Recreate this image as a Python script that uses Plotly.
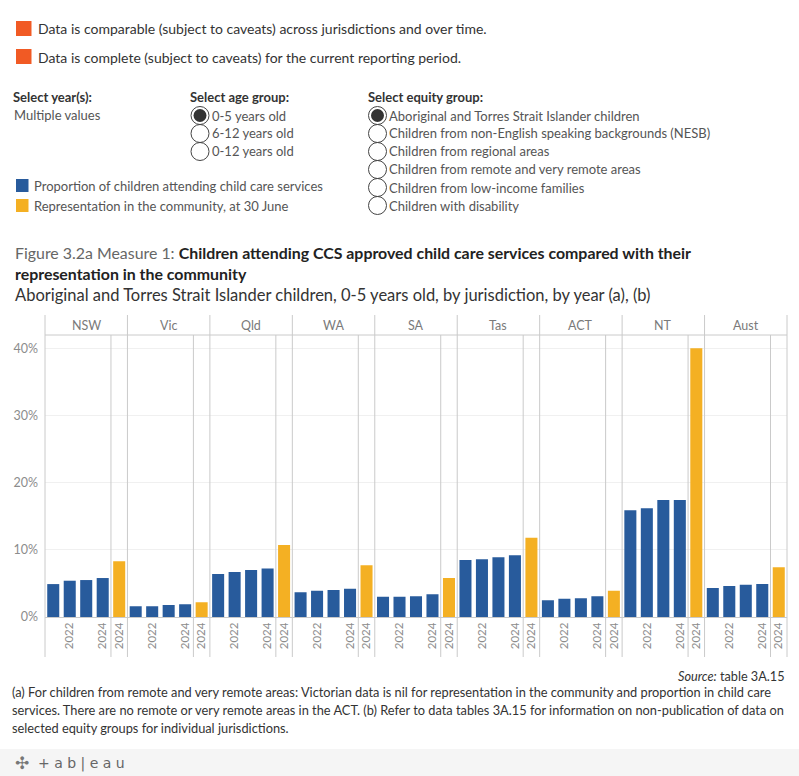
import plotly.graph_objects as go
from plotly.subplots import make_subplots

# ---------------- data (values in %) ----------------
jurisdictions = ["NSW", "Vic", "Qld", "WA", "SA", "Tas", "ACT", "NT", "Aust"]
years = ["2021", "2022", "2023", "2024"]
year_ticks = ["2022", "2024"]
rep_year = ["2024"]

# Proportion of children attending child care services
att_2021 = [4.9, 1.6, 6.4, 3.7, 3.0, 8.5, 2.5, 15.9, 4.3]
att_2022 = [5.4, 1.6, 6.7, 3.9, 3.0, 8.6, 2.7, 16.2, 4.6]
att_2023 = [5.5, 1.8, 7.0, 4.0, 3.1, 8.9, 2.8, 17.4, 4.8]
att_2024 = [5.8, 1.9, 7.2, 4.2, 3.4, 9.2, 3.1, 17.4, 4.9]
# Representation in the community, at 30 June
rep_2024 = [8.3, 2.2, 10.7, 7.7, 5.8, 11.8, 3.9, 40.0, 7.4]

y_ticks = [0, 10, 20, 30, 40]
y_tick_labels = ["0%", "10%", "20%", "30%", "40%"]

BLUE = "#285B9C"
YELLOW = "#F4B023"
ORANGE = "#F15A24"
LINE = "#CACACA"
FONT = "Lato"

# ---------------- geometry helpers (screen pixel -> paper) ----------------
W, H = 799, 776
L, R, T, B = 45, 787, 335, 617


def px(x):
    return (x - L) / (R - L)


def py(y):
    return (B - y) / (B - T)


n = len(jurisdictions)
fig = make_subplots(rows=1, cols=2 * n, shared_yaxes=True,
                    horizontal_spacing=0, column_widths=[4, 1] * n)

attending = [att_2021, att_2022, att_2023, att_2024]
for j, jur in enumerate(jurisdictions):
    fig.add_trace(go.Bar(x=years, y=[a[j] for a in attending], marker_color=BLUE,
                         marker_line_width=0, showlegend=False,
                         name="Proportion of children attending child care services"),
                  row=1, col=2 * j + 1)
    fig.add_trace(go.Bar(x=rep_year, y=[rep_2024[j]], marker_color=YELLOW,
                         marker_line_width=0, showlegend=False,
                         name="Representation in the community, at 30 June"),
                  row=1, col=2 * j + 2)

fig.update_xaxes(type="category", tickangle=-90, showgrid=False,
                 tickfont=dict(family=FONT, size=11.5, color="#8C8C8C"),
                 showline=True, linecolor=LINE, linewidth=1, ticks="",
                 fixedrange=True)
for k in range(1, 2 * n + 1):
    name = "xaxis" if k == 1 else f"xaxis{k}"
    if k % 2 == 1:
        fig.layout[name].update(tickvals=year_ticks, categoryorder="array",
                                categoryarray=years, range=[-0.5, 3.5])
    else:
        fig.layout[name].update(tickvals=rep_year, range=[-0.5, 0.5])

fig.update_yaxes(range=[0, 41.97], tickvals=y_ticks, ticktext=y_tick_labels,
                 showgrid=True, gridcolor="#F0F0F0", gridwidth=1, zeroline=False,
                 showline=False, ticks="", fixedrange=True,
                 tickfont=dict(family=FONT, size=12.5, color="#8C8C8C"))
fig.layout.yaxis.ticklabelstandoff = 6

shapes = []
y_bot = py(657)
y_top = py(315)
for k in range(1, 2 * n + 1):
    xr = "x domain" if k == 1 else f"x{k} domain"
    top = y_top if k % 2 == 1 else 1
    shapes.append(dict(type="line", xref=xr, yref="paper", x0=0, x1=0,
                       y0=y_bot, y1=top, line=dict(color=LINE, width=1)))
shapes.append(dict(type="line", xref=f"x{2*n} domain", yref="paper", x0=1, x1=1,
                   y0=y_bot, y1=y_top, line=dict(color=LINE, width=1)))
# header bottom line
shapes.append(dict(type="line", xref="paper", yref="paper", x0=0, x1=1, y0=1, y1=1,
                   line=dict(color=LINE, width=1)))

annotations = []
# jurisdiction headers
for j, jur in enumerate(jurisdictions):
    d0 = fig.layout["xaxis" if j == 0 else f"xaxis{2*j+1}"].domain[0]
    d1 = fig.layout[f"xaxis{2*j+2}"].domain[1]
    annotations.append(dict(text=jur, x=(d0 + d1) / 2, y=py(325.5), xref="paper",
                            yref="paper", showarrow=False, xanchor="center",
                            yanchor="middle",
                            font=dict(family=FONT, size=12.5, color="#7A7A7A")))


def txt(s, x, y, size=12, color="#333333", anchor="left", family=FONT):
    annotations.append(dict(text=s, x=px(x), y=py(y), xref="paper", yref="paper",
                            showarrow=False, xanchor=anchor, yanchor="middle",
                            font=dict(family=family, size=size, color=color)))


def rect(x0, y0, x1, y1, color):
    shapes.append(dict(type="rect", xref="paper", yref="paper", x0=px(x0), x1=px(x1),
                       y0=py(y1), y1=py(y0), fillcolor=color, line=dict(width=0),
                       layer="above"))


def circle(cx, cy, r, fill=None, color="#444444"):
    shapes.append(dict(type="circle", xref="paper", yref="paper",
                       x0=px(cx - r), x1=px(cx + r), y0=py(cy + r), y1=py(cy - r),
                       fillcolor=fill if fill else "rgba(0,0,0,0)",
                       line=dict(color=color, width=1 if not fill else 0)))


# top quality notes
rect(16, 21, 31.5, 36, ORANGE)
txt("Data is comparable (subject to caveats) across jurisdictions and over time.", 36, 29, 14)
rect(16, 49, 31.5, 64, ORANGE)
txt("Data is complete (subject to caveats) for the current reporting period.", 36, 57, 14)

# filters
txt("<b>Select year(s):</b>", 11, 97, 13, "#333333")
txt("Multiple values", 12, 115, 13, "#555555")
txt("<b>Select age group:</b>", 188, 97, 13, "#333333")
age_opts = ["0-5 years old", "6-12 years old", "0-12 years old"]
for i, s in enumerate(age_opts):
    cy = 115.5 + 18 * i
    circle(200, cy, 9)
    if i == 0:
        circle(200, cy, 6.5, fill="#333333")
    txt(s, 209.5, cy, 13, "#555555")
txt("<b>Select equity group:</b>", 366, 97, 13, "#333333")
eq_opts = ["Aboriginal and Torres Strait Islander children",
           "Children from non-English speaking backgrounds (NESB)",
           "Children from regional areas",
           "Children from remote and very remote areas",
           "Children from low-income families",
           "Children with disability"]
for i, s in enumerate(eq_opts):
    cy = 115.5 + 18 * i
    circle(377.5, cy, 9)
    if i == 0:
        circle(377.5, cy, 6.5, fill="#333333")
    txt(s, 387, cy, 13, "#555555")

# colour legend
rect(16, 179, 28.5, 192, BLUE)
txt("Proportion of children attending child care services", 32, 186, 13, "#555555")
rect(16, 199, 28.5, 212, YELLOW)
txt("Representation in the community, at 30 June", 32, 206, 13, "#555555")

# title
txt("<span style='color:#666666'>Figure 3.2a Measure 1: </span><b>Children attending CCS approved child care services compared with their</b>",
    13, 252, 15.9, "#222222")
txt("<b>representation in the community</b>", 13, 273.5, 15.9, "#222222")
txt("Aboriginal and Torres Strait Islander children, 0-5 years old, by jurisdiction, by year (a), (b)",
    13, 295, 16.5, "#333333")

# footer
txt("<i>Source:</i> table 3A.15", 787, 676, 12.7, "#333333", anchor="right")
txt("(a) For children from remote and very remote areas: Victorian data is nil for representation in the community and proportion in child care",
    10, 692, 12.8, "#333333")
txt("services. There are no remote or very remote areas in the ACT. (b) Refer to data tables 3A.15 for information on non-publication of data on",
    10, 710, 12.8, "#333333")
txt("selected equity groups for individual jurisdictions.", 10, 728, 12.8, "#333333")

# tableau bar
shapes.append(dict(type="rect", xref="paper", yref="paper", x0=px(-2), x1=px(W + 2),
                   y0=py(H + 2), y1=py(749), fillcolor="#F5F5F5", line=dict(width=0),
                   layer="below"))
txt("✣", 13, 763, 17, "#777777", family="DejaVu Sans")
txt("+ a b | e a u", 36, 763, 14, "#666666", family="DejaVu Sans")

fig.update_layout(width=W, height=H,
                  margin=dict(l=L, r=W - R, t=T, b=H - B),
                  paper_bgcolor="white", plot_bgcolor="white", bargap=0.27,
                  shapes=shapes, annotations=annotations, showlegend=False,
                  font=dict(family=FONT))

fig.write_html("out.html", config={"displayModeBar": False},
               post_script="document.body.style.margin='0px';"
                           "document.body.style.overflow='hidden';")
